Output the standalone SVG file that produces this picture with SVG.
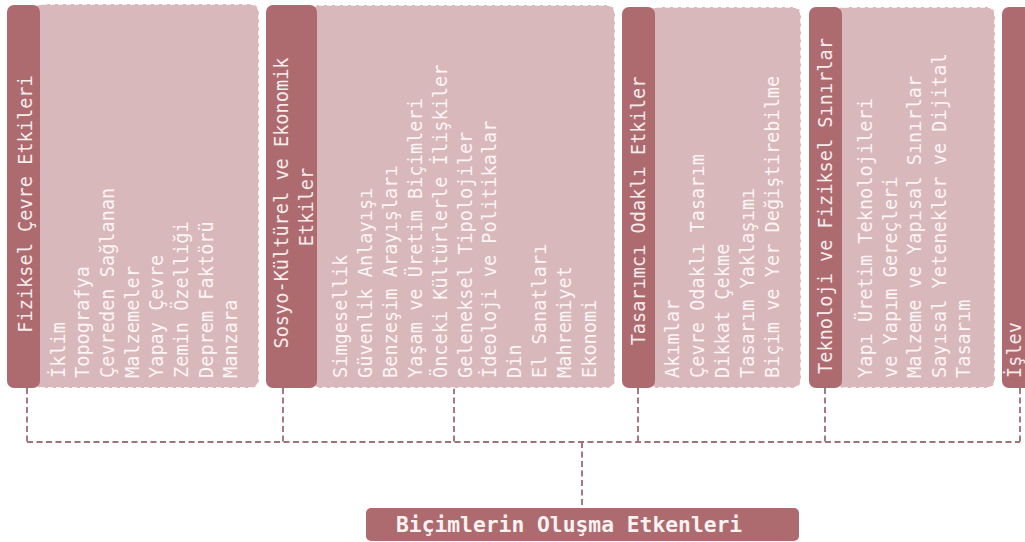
<svg xmlns="http://www.w3.org/2000/svg" width="1025" height="542" viewBox="0 0 1025 542">
<style>
.bar{fill:#ad6b70}
.panel{fill:#d9b8bb;stroke:#ffffff;stroke-width:1.5;stroke-dasharray:5 3}
.hd{font-family:"DejaVu Sans Mono","Liberation Mono",monospace;font-size:18.6px;fill:#f6ecec}
.it{font-family:"DejaVu Sans Mono","Liberation Mono",monospace;font-size:18.6px;fill:#fbf5f5}
.conn{fill:none;stroke:#a0737a;stroke-width:1.9;stroke-dasharray:6 3.5}
.root{font-family:"DejaVu Sans Mono","Liberation Mono",monospace;font-size:21.3px;font-weight:bold;fill:#fbf2f2}
</style>
<rect width="1025" height="542" fill="#ffffff"/>
<g id="connectors">
<path class="conn" d="M27 388 V442 M283 388 V442 M454 388 V442 M638 388 V442 M825 388 V442 M1020 388 V442 M27 442 H1020 M582 442 V508"/>
</g>
<g id="col1">
<rect class="panel" x="34" y="4" width="225" height="384" rx="8"/>
<rect class="bar" x="7" y="5" width="33" height="383" rx="7"/>
<text class="hd" text-anchor="middle" transform="translate(32,204) rotate(-90)">Fiziksel Çevre Etkileri</text>
<g class="it">
<text transform="translate(64.5,378) rotate(-90)">İklim</text>
<text transform="translate(89.2,378) rotate(-90)">Topografya</text>
<text transform="translate(113.9,378) rotate(-90)">Çevreden Sağlanan</text>
<text transform="translate(138.6,378) rotate(-90)">Malzemeler</text>
<text transform="translate(163.3,378) rotate(-90)">Yapay Çevre</text>
<text transform="translate(188,378) rotate(-90)">Zemin Özelliği</text>
<text transform="translate(212.7,378) rotate(-90)">Deprem Faktörü</text>
<text transform="translate(237.4,378) rotate(-90)">Manzara</text>
</g>
</g>
<g id="col2">
<rect class="panel" x="311" y="5" width="304" height="383" rx="8"/>
<rect class="bar" x="266" y="5" width="51" height="383" rx="7"/>
<text class="hd" text-anchor="middle" transform="translate(288,203) rotate(-90)">Sosyo-Kültürel ve Ekonomik</text>
<text class="hd" text-anchor="middle" transform="translate(313,207) rotate(-90)">Etkiler</text>
<g class="it">
<text transform="translate(347,378) rotate(-90)">Simgesellik</text>
<text transform="translate(371.9,378) rotate(-90)">Güvenlik Anlayışı</text>
<text transform="translate(396.8,378) rotate(-90)">Benzeşim Arayışları</text>
<text transform="translate(421.7,378) rotate(-90)">Yaşam ve Üretim Biçimleri</text>
<text transform="translate(446.6,378) rotate(-90)">Önceki Kültürlerle İlişkiler</text>
<text transform="translate(471.5,378) rotate(-90)">Geleneksel Tipolojiler</text>
<text transform="translate(496.4,378) rotate(-90)">İdeoloji ve Politikalar</text>
<text transform="translate(521.3,378) rotate(-90)">Din</text>
<text transform="translate(546.2,378) rotate(-90)">El Sanatları</text>
<text transform="translate(571.1,378) rotate(-90)">Mahremiyet</text>
<text transform="translate(596,378) rotate(-90)">Ekonomi</text>
</g>
</g>
<g id="col3">
<rect class="panel" x="649" y="7" width="152" height="381" rx="8"/>
<rect class="bar" x="622" y="7" width="33" height="381" rx="7"/>
<text class="hd" text-anchor="middle" transform="translate(645,211) rotate(-90)">Tasarımcı Odaklı Etkiler</text>
<g class="it">
<text transform="translate(679,378) rotate(-90)">Akımlar</text>
<text transform="translate(704,378) rotate(-90)">Çevre Odaklı Tasarım</text>
<text transform="translate(729,378) rotate(-90)">Dikkat Çekme</text>
<text transform="translate(754,378) rotate(-90)">Tasarım Yaklaşımı</text>
<text transform="translate(779,378) rotate(-90)">Biçim ve Yer Değiştirebilme</text>
</g>
</g>
<g id="col4">
<rect class="panel" x="836" y="7" width="159" height="381" rx="8"/>
<rect class="bar" x="809" y="7" width="33" height="381" rx="7"/>
<text class="hd" text-anchor="middle" transform="translate(832,206) rotate(-90)">Teknoloji ve Fiziksel Sınırlar</text>
<g class="it">
<text transform="translate(872,378) rotate(-90)">Yapı Üretim Teknolojileri</text>
<text transform="translate(896.5,378) rotate(-90)">ve Yapım Gereçleri</text>
<text transform="translate(921,378) rotate(-90)">Malzeme ve Yapısal Sınırlar</text>
<text transform="translate(945.5,378) rotate(-90)">Sayısal Yetenekler ve Dijital</text>
<text transform="translate(970,378) rotate(-90)">Tasarım</text>
</g>
</g>
<g id="col5">
<rect class="bar" x="1002" y="7" width="40" height="381" rx="7"/>
<text class="hd" transform="translate(1021,378) rotate(-90)">İşlev</text>
</g>
<g id="root">
<rect class="bar" x="366" y="508" width="433" height="33" rx="5"/>
<text class="root" x="396" y="532">Biçimlerin Oluşma Etkenleri</text>
</g>
</svg>
